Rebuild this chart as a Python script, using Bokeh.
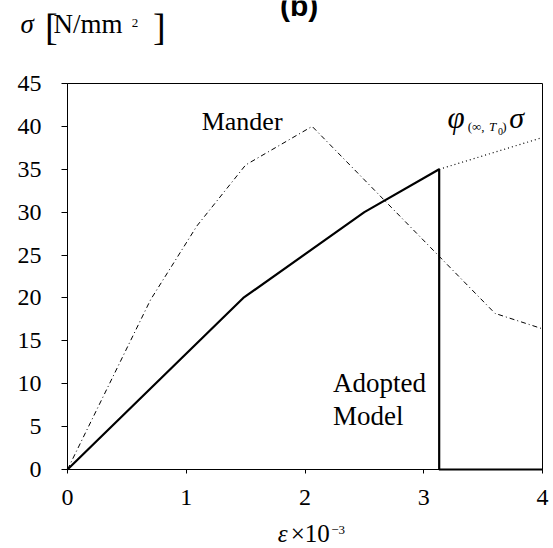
from bokeh.plotting import figure
from bokeh.models import Range1d, Label, FixedTicker
from bokeh.embed import file_html
from bokeh.resources import INLINE

# Data
adopted_x = [0.0, 1.48, 2.5, 3.13, 3.13, 4.0]
adopted_y = [0.0, 20.0, 30.0, 35.0, 0.0, 0.0]

mander_x = [0.0, 0.7, 1.09, 1.5, 2.06, 3.6, 4.0]
mander_y = [0.0, 19.8, 28.4, 35.5, 40.0, 18.2, 16.4]

creep_x = [3.13, 4.0]
creep_y = [35.0, 38.7]

x_ticks = [0, 1, 2, 3, 4]
y_ticks = [0, 5, 10, 15, 20, 25, 30, 35, 40, 45]

SERIF = "Liberation Serif"

# canvas size and plotting box (pixels from top-left)
W, H = 553, 548
BL, BR, BT, BB = 67, 542, 83, 469
sx = (BR - BL) / (x_ticks[-1] - x_ticks[0])
sy = (BB - BT) / (y_ticks[-1] - y_ticks[0])
x_range = Range1d(x_ticks[0] - BL / sx, x_ticks[-1] + (W - BR) / sx)
y_range = Range1d(y_ticks[0] - (H - BB) / sy, y_ticks[-1] + BT / sy)

p = figure(width=W, height=H, output_backend="svg", toolbar_location=None,
           x_range=x_range, y_range=y_range,
           min_border=0)

p.background_fill_color = "white"
p.border_fill_color = "white"
p.outline_line_color = None
p.xgrid.visible = False
p.ygrid.visible = False

p.xaxis.ticker = FixedTicker(ticks=x_ticks)
p.yaxis.ticker = FixedTicker(ticks=y_ticks)
p.xaxis.fixed_location = y_ticks[0]
p.yaxis.fixed_location = x_ticks[0]
p.xaxis.bounds = (x_ticks[0], x_ticks[-1])
p.yaxis.bounds = (y_ticks[0], y_ticks[-1])
for ax in (p.xaxis[0], p.yaxis[0]):
    ax.axis_line_color = "black"
    ax.axis_line_width = 1
    ax.major_tick_line_color = "black"
    ax.major_tick_in = 0
    ax.minor_tick_line_color = None
    ax.major_label_text_font = SERIF
    ax.major_label_text_font_size = "24px"
    ax.major_label_text_color = "black"
p.xaxis.major_tick_out = 4
p.xaxis.major_label_standoff = 16
p.yaxis.major_tick_out = 6
p.yaxis.major_label_standoff = 20

# plot box (top and right border)
p.quad(left=[x_ticks[0]], right=[x_ticks[-1]], bottom=[y_ticks[0]], top=[y_ticks[-1]],
       fill_color=None, line_color="black", line_width=1)

# curves
p.line(mander_x, mander_y, line_color="black", line_width=1, line_dash="5 3 1 3")
p.line(creep_x, creep_y, line_color="black", line_width=1.2, line_dash="1 3")
p.line(adopted_x, adopted_y, line_color="black", line_width=2.2)


def lab(x, y, t, size, style="normal", font=SERIF, align="left"):
    # y is the intended baseline; compensate the renderer's baseline offset
    y_adj = y + 0.35 * size / sy
    p.add_layout(Label(x=x, y=y_adj, text=t, text_font=font, text_font_size=f"{size}px",
                       text_font_style=style, text_color="black",
                       text_align=align, text_baseline="alphabetic"))


# annotations inside plot
lab(1.13, 39.5, "Mander", 26)
lab(2.235, 8.98, "Adopted", 27)
lab(2.235, 5.13, "Model", 27)
lab(3.20, 39.75, "φ", 31, "italic")
lab(3.37, 39.5, "(∞,", 13)
lab(3.55, 39.5, "T", 13, "italic")
lab(3.625, 39.0, "0", 10)
lab(3.66, 39.5, ")", 13)
lab(3.72, 39.87, "σ", 30, "italic")

# y axis title pieces
lab(-0.395, 50.8, "σ", 27, "italic")
lab(-0.19, 50.07, "[", 38)
lab(-0.118, 50.8, "N/mm", 27)
lab(0.54, 51.5, "2", 13)
lab(0.72, 50.07, "]", 38)

# x axis title pieces
lab(1.77, -8.51, "ε", 25, "italic")
lab(1.88, -8.51, "×10", 25)
lab(2.22, -7.58, "−3", 13)

# panel tag
lab(1.95, 52.87, "(b)", 30, "bold", font="Liberation Sans", align="center")

open("out.html", "w").write(file_html(p, INLINE))
